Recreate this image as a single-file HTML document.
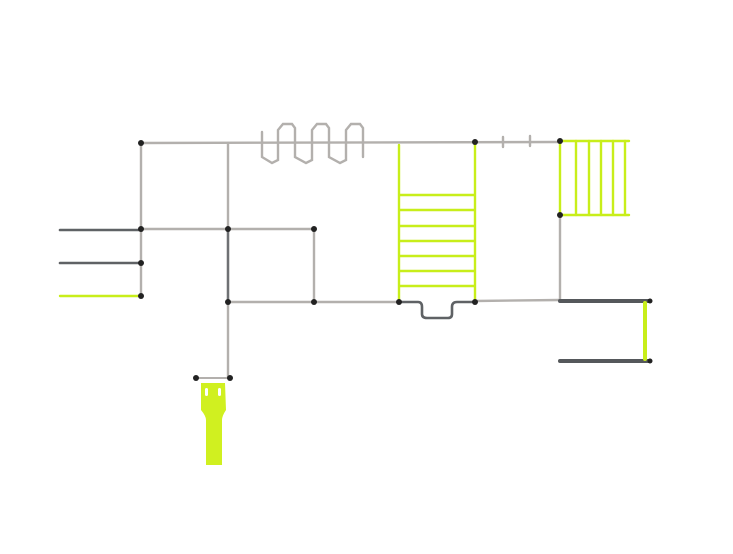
<!DOCTYPE html>
<html><head><style>html,body{margin:0;padding:0;background:#fff}</style></head>
<body>
<svg width="733" height="549" viewBox="0 0 733 549" xmlns="http://www.w3.org/2000/svg">
<defs><filter id="s" x="-10%" y="-10%" width="120%" height="130%"><feGaussianBlur stdDeviation="2"/></filter></defs>
<g fill="none" stroke-linecap="round">
<!-- grey frame -->
<g stroke="#b3b0ad" stroke-width="2.4">
<line x1="141" y1="143" x2="560" y2="142"/>
<line x1="141" y1="143" x2="141" y2="296"/>
<line x1="228" y1="143" x2="228" y2="378"/>
<line x1="141" y1="229" x2="314" y2="229"/>
<line x1="314" y1="229" x2="314" y2="302"/>
<line x1="228" y1="302" x2="399" y2="302"/>
<line x1="475" y1="301" x2="560" y2="300"/>
<line x1="560" y1="215" x2="560" y2="300"/>
<line x1="503" y1="137" x2="503" y2="147"/>
<line x1="530" y1="136" x2="530" y2="146"/>
<polyline points="262,132 262,157 272,163 278,160 278,130 283,124 292,124 295,128 295,157 306,163 312,160 312,130 317,124 326,124 329,128 329,157 340,163 346,160 346,130 351,124 360,124 363,128 363,157"/>
</g>
<line x1="228" y1="229" x2="228" y2="302" stroke="#6f7174" stroke-width="2.4"/>
<!-- dark bars -->
<g stroke="#5f6265" stroke-width="2.6">
<line x1="60" y1="230" x2="141" y2="230"/>
<line x1="60" y1="263" x2="141" y2="263"/>
<path d="M399,302 H418 Q422,302 422,307 V314 Q422,318 427,318 H448 Q452,318 452,314 V307 Q452,302 457,302 H475"/>
</g>
<g stroke="#55585b" stroke-width="4">
<line x1="560" y1="301" x2="650" y2="301"/>
<line x1="560" y1="361" x2="650" y2="361"/>
</g>
<!-- lime -->
<g stroke="#c8ee1a" stroke-width="2.4">
<line x1="60" y1="296" x2="141" y2="296"/>
<line x1="399" y1="145" x2="399" y2="302"/>
<line x1="475" y1="143" x2="475" y2="302"/>
<line x1="400" y1="195" x2="474" y2="195"/>
<line x1="400" y1="210" x2="474" y2="210"/>
<line x1="400" y1="226" x2="474" y2="226"/>
<line x1="400" y1="241" x2="474" y2="241"/>
<line x1="400" y1="256" x2="474" y2="256"/>
<line x1="400" y1="271" x2="474" y2="271"/>
<line x1="400" y1="286" x2="474" y2="286"/>
<line x1="560" y1="141" x2="629" y2="141"/>
<line x1="560" y1="215" x2="629" y2="215"/>
<line x1="560" y1="141" x2="560" y2="215"/>
<line x1="576" y1="141" x2="576" y2="215"/>
<line x1="589" y1="141" x2="589" y2="215"/>
<line x1="601" y1="141" x2="601" y2="215"/>
<line x1="613" y1="141" x2="613" y2="215"/>
<line x1="625" y1="141" x2="625" y2="215"/>
</g>
<line x1="645" y1="303" x2="645" y2="359" stroke="#c8ee1a" stroke-width="4"/>
<line x1="196" y1="378" x2="230" y2="378" stroke="#b3b0ad" stroke-width="2"/>
</g>
<!-- board -->
<path d="M201,383 H225 L226,410 Q222,416 222,420 V465 H206 V420 Q206,416 201,410 Z" fill="#d0f020"/>
<rect x="205" y="388" width="3" height="8" rx="1.5" fill="#fff"/>
<rect x="218" y="388" width="3" height="8" rx="1.5" fill="#fff"/>
<!-- joints -->
<g fill="#222">
<circle cx="141" cy="143" r="3"/><circle cx="141" cy="229" r="3"/><circle cx="141" cy="263" r="3"/><circle cx="141" cy="296" r="3"/>
<circle cx="228" cy="229" r="3"/><circle cx="228" cy="302" r="3"/><circle cx="314" cy="229" r="3"/><circle cx="314" cy="302" r="3"/>
<circle cx="399" cy="302" r="3"/><circle cx="475" cy="302" r="3"/><circle cx="475" cy="142" r="3"/>
<circle cx="560" cy="141" r="3"/><circle cx="560" cy="215" r="3"/>
<circle cx="650" cy="301" r="2.5"/><circle cx="650" cy="361" r="2.5"/>
<circle cx="196" cy="378" r="3"/><circle cx="230" cy="378" r="3"/>
</g>
</svg>
</body></html>
